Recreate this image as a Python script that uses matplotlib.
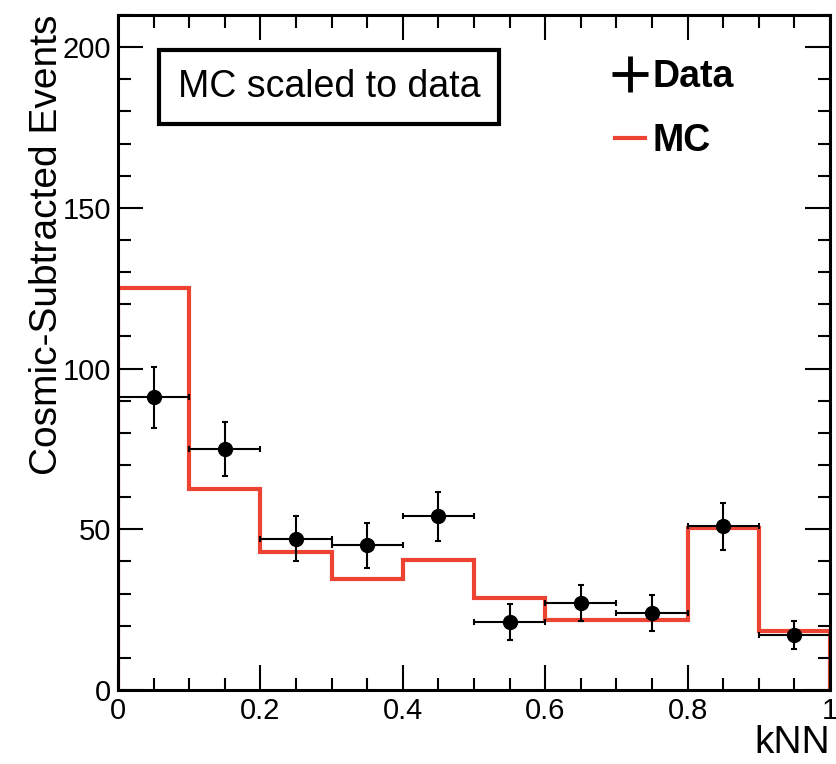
import matplotlib
matplotlib.use("Agg")
import matplotlib.pyplot as plt
import numpy as np
from matplotlib.ticker import MultipleLocator
from matplotlib.lines import Line2D

plt.rcParams['font.family'] = ['Liberation Sans', 'DejaVu Sans']

bin_edges = [0.0, 0.1, 0.2, 0.3, 0.4, 0.5, 0.6, 0.7, 0.8, 0.9, 1.0]
mc_values = [125, 62.5, 43, 34.5, 40.5, 28.7, 21.8, 21.8, 50.5, 18.5]
data_x = [0.05, 0.15, 0.25, 0.35, 0.45, 0.55, 0.65, 0.75, 0.85, 0.95]
data_y = [91, 75, 47, 45, 54, 21, 27, 24, 51, 17]
data_err = [9.4, 8.3, 7.0, 7.0, 7.6, 5.6, 5.6, 5.6, 7.3, 4.4]
x_err = [0.05] * 10

fig = plt.figure(figsize=(8.36, 7.64), dpi=100)
ax = fig.add_axes([0.1411, 0.0969, 0.8517, 0.8835])

red = '#ec4332'
# MC histogram
ax.stairs(mc_values, bin_edges, color=red, lw=3.0, baseline=0)
# data
ax.errorbar(data_x, data_y, yerr=data_err, xerr=x_err, fmt='o', color='black',
            ms=10, lw=1.5, capsize=2.5, capthick=1.5, zorder=5)

ax.set_xlim(0, 1)
ax.set_ylim(0, 210)
ax.xaxis.set_major_locator(MultipleLocator(0.2))
ax.xaxis.set_minor_locator(MultipleLocator(0.05))
ax.yaxis.set_major_locator(MultipleLocator(50))
ax.yaxis.set_minor_locator(MultipleLocator(10))
ax.xaxis.set_major_formatter(matplotlib.ticker.FuncFormatter(
    lambda v, p: '0' if v == 0 else ('1' if abs(v - 1) < 1e-9 else f'{v:.1f}')))
ax.tick_params(which='both', direction='in', top=True, right=True, width=1.5, labelsize=21, pad=5)
ax.tick_params(which='major', length=18)
ax.tick_params(which='minor', length=9)
for s in ax.spines.values():
    s.set_linewidth(2.2)

ax.set_ylabel('Cosmic-Subtracted Events', fontsize=28, loc='top', labelpad=-2)
ax.set_xlabel('kNN', fontsize=28, loc='right', labelpad=0)

ax.text(0.084, 0.893, 'MC scaled to data', transform=ax.transAxes, fontsize=27,
        ha='left', va='center',
        bbox=dict(boxstyle='square,pad=0.5', facecolor='white', edgecolor='black', lw=3))

data_handle = Line2D([], [], color='black', marker='+', ms=26, mew=3.5, lw=0)
mc_handle = Line2D([], [], color=red, lw=3)
ax.legend([data_handle, mc_handle], ['Data', 'MC'], loc='upper left',
          bbox_to_anchor=(0.65, 0.985), frameon=False, handlelength=0.8,
          handletextpad=0.2, labelspacing=0.75, prop={'weight': 'bold', 'size': 27})

fig.savefig('out.png', dpi=100)
